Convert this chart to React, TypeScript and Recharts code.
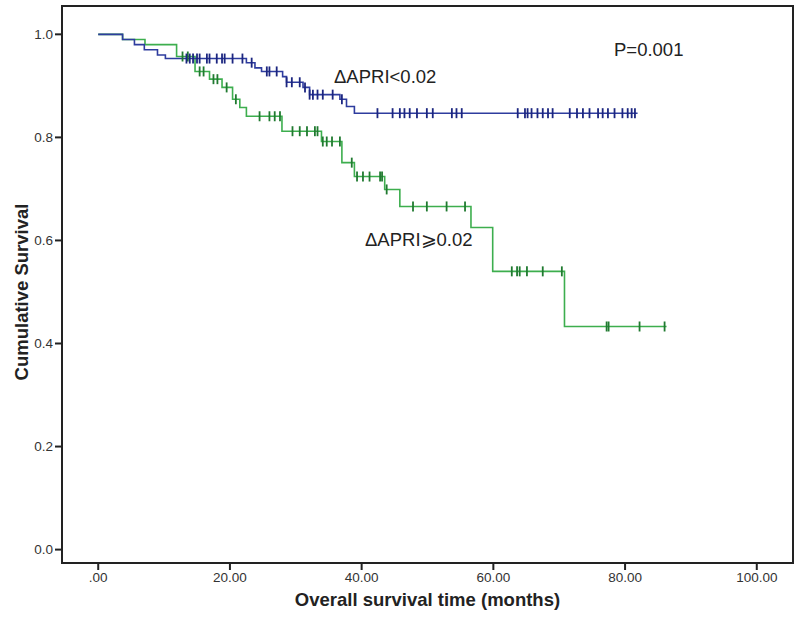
import { ComposedChart, Line, Scatter, XAxis, YAxis, ReferenceArea } from 'recharts';

// axis ticks
const xTicks = [0, 20, 40, 60, 80, 100];
const yTicks = [0, 0.2, 0.4, 0.6, 0.8, 1.0];

// ΔAPRI<0.02 (blue) – step times and survival levels
const lowTimes = [0, 3.7, 5.5, 7.0, 9.0, 10.2, 22.5, 23.8, 24.8, 28.0, 28.6, 31.1, 32.1, 36.7, 37.7, 38.9, 81.9];
const lowSurv = [1.0, 0.99, 0.98, 0.97, 0.96, 0.953, 0.945, 0.935, 0.928, 0.918, 0.907, 0.897, 0.883, 0.874, 0.86, 0.847, 0.847];
const lowCensored = [
    13.4, 13.9, 14.4, 15.0, 15.4, 16.5, 16.9, 18.0, 18.8, 19.2, 20.4, 21.9, 23.3, 25.6, 26.0, 27.1,
    28.6, 29.4, 30.6, 31.4, 32.1, 32.6, 33.3, 34.1, 35.6, 37.0, 42.4, 44.7, 45.8, 46.5, 47.3, 48.4,
    49.9, 50.8, 53.7, 54.4, 55.2, 63.7, 64.8, 65.2, 65.8, 66.7, 67.5, 68.3, 69.0, 71.6, 72.7, 73.6,
    74.6, 75.9, 76.6, 77.4, 78.4, 79.6, 80.4, 81.0, 81.5,
];

// ΔAPRI≥0.02 (green)
const highTimes = [0, 3.7, 7.1, 11.9, 14.7, 16.9, 18.8, 20.4, 21.5, 22.5, 27.9, 33.9, 37.0, 38.9, 43.5, 45.8, 56.6, 59.9, 70.8, 86.3];
const highSurv = [1.0, 0.99, 0.98, 0.957, 0.928, 0.913, 0.897, 0.874, 0.858, 0.841, 0.812, 0.792, 0.751, 0.724, 0.699, 0.666, 0.625, 0.54, 0.433, 0.433];
const highCensored = [
    12.8, 13.6, 15.4, 16.0, 17.5, 18.1, 19.5, 20.9, 24.5, 26.0, 26.8, 27.6, 29.5, 30.6, 31.7, 32.9,
    33.3, 34.1, 34.7, 35.5, 36.7, 38.5, 39.3, 40.2, 41.2, 42.8, 43.1, 43.8, 47.8, 49.9, 52.9, 55.7,
    62.8, 63.6, 64.0, 65.1, 67.5, 70.4, 77.2, 77.5, 82.2, 86.0,
];

const BLUE = '#2e3c9e';
const BLUE_MARK = '#1c2680';
const GREEN = '#3dae4e';
const GREEN_MARK = '#207a30';

const X_DOMAIN: [number, number] = [-5.5, 105.5];
const Y_DOMAIN: [number, number] = [-0.026, 1.055];

function toSteps(times: number[], surv: number[]) {
    return times.map((t, i) => ({ t, s: surv[i] }));
}

// survival level of the curve at time t (for placing the censor ticks)
function levelAt(times: number[], surv: number[], t: number) {
    let s = surv[0];
    for (let i = 0; i < times.length; i++) {
        if (times[i] <= t) s = surv[i];
    }
    return s;
}

function toMarks(times: number[], surv: number[], censored: number[]) {
    return censored.map((t) => ({ t, s: levelAt(times, surv, t) }));
}

const CensorTick = (color: string) => (props: any) => {
    const { cx, cy } = props;
    return <line x1={cx} x2={cx} y1={cy - 5} y2={cy + 5} stroke={color} strokeWidth={1.8} />;
};

const fmtX = (v: number) => (v === 0 ? '.00' : v.toFixed(2));
const fmtY = (v: number) => v.toFixed(1);

const FONT = 'Liberation Sans, Arial, sans-serif';
const tickStyle = { fontFamily: FONT, fontSize: 13.5, fill: '#333' };
const textStyle = { fontFamily: FONT, fontSize: 18.5, color: '#222', lineHeight: '22px' };

export default function App() {
    const lowData = toSteps(lowTimes, lowSurv);
    const highData = toSteps(highTimes, highSurv);
    const lowMarks = toMarks(lowTimes, lowSurv, lowCensored);
    const highMarks = toMarks(highTimes, highSurv, highCensored);

    return (
        <div style={{ position: 'absolute', left: 0, top: 0, width: 800, height: 642, background: '#fff' }}>
            <ComposedChart width={800} height={642} margin={{ top: 6, right: 7, bottom: 0, left: 0 }}>
                <XAxis
                    type="number"
                    dataKey="t"
                    domain={X_DOMAIN}
                    ticks={xTicks}
                    tickFormatter={fmtX}
                    allowDataOverflow
                    height={79}
                    stroke="#222"
                    strokeWidth={2}
                    tickSize={7}
                    tick={tickStyle}
                />
                <YAxis
                    type="number"
                    dataKey="s"
                    domain={Y_DOMAIN}
                    ticks={yTicks}
                    tickFormatter={fmtY}
                    allowDataOverflow
                    width={62}
                    stroke="#222"
                    strokeWidth={2}
                    tickSize={7}
                    tick={tickStyle}
                />
                <ReferenceArea
                    x1={X_DOMAIN[0]}
                    x2={X_DOMAIN[1]}
                    y1={Y_DOMAIN[0]}
                    y2={Y_DOMAIN[1]}
                    fill="none"
                    stroke="#222"
                    strokeWidth={2}
                    ifOverflow="visible"
                />
                <Line
                    data={highData}
                    dataKey="s"
                    type="stepAfter"
                    stroke={GREEN}
                    strokeWidth={1.6}
                    dot={false}
                    isAnimationActive={false}
                />
                <Line
                    data={lowData}
                    dataKey="s"
                    type="stepAfter"
                    stroke={BLUE}
                    strokeWidth={1.6}
                    dot={false}
                    isAnimationActive={false}
                />
                <Scatter data={highMarks} dataKey="s" shape={CensorTick(GREEN_MARK)} isAnimationActive={false} />
                <Scatter data={lowMarks} dataKey="s" shape={CensorTick(BLUE_MARK)} isAnimationActive={false} />
            </ComposedChart>

            {/* annotations */}
            <div style={{ ...textStyle, position: 'absolute', left: 614, top: 39 }}>P=0.001</div>
            <div style={{ ...textStyle, position: 'absolute', left: 334, top: 66 }}>ΔAPRI&lt;0.02</div>
            <div style={{ ...textStyle, position: 'absolute', left: 365, top: 229 }}>ΔAPRI⩾0.02</div>

            {/* axis titles */}
            <div
                style={{
                    ...textStyle,
                    fontWeight: 'bold',
                    position: 'absolute',
                    left: 62,
                    width: 731,
                    top: 589,
                    textAlign: 'center',
                }}
            >
                Overall survival time (months)
            </div>
            <div
                style={{
                    ...textStyle,
                    fontWeight: 'bold',
                    position: 'absolute',
                    left: 22,
                    top: 292,
                    whiteSpace: 'nowrap',
                    transform: 'translate(-50%, -50%) rotate(-90deg)',
                }}
            >
                Cumulative Survival
            </div>
        </div>
    );
}
